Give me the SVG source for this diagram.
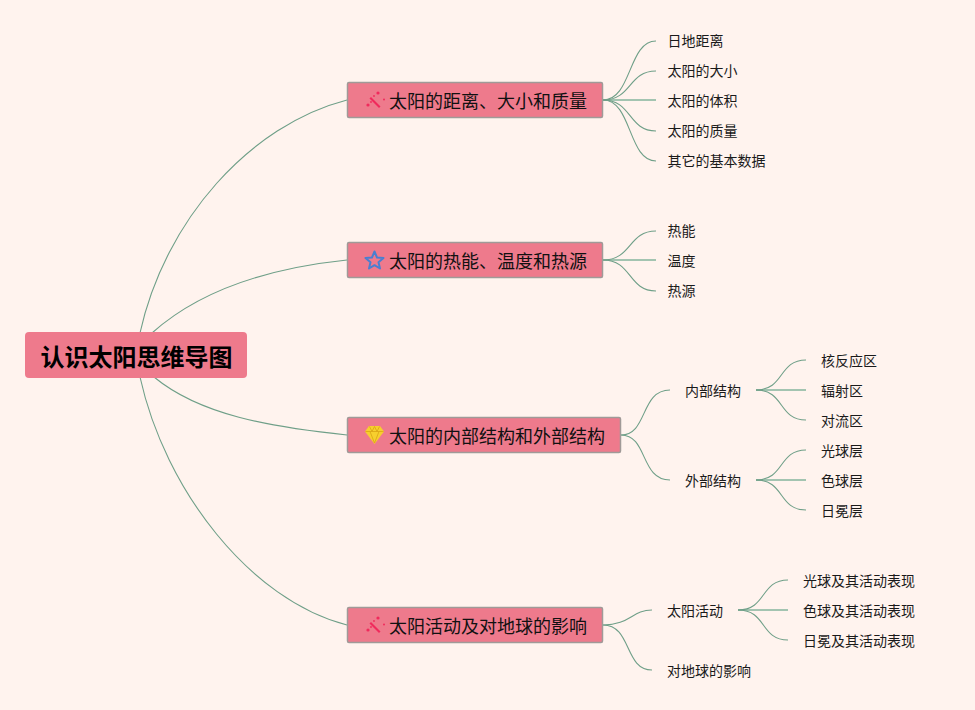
<svg xmlns="http://www.w3.org/2000/svg" width="975" height="710" viewBox="0 0 975 710">
<style>
text{font-family:"Noto Sans CJK SC","Liberation Sans",sans-serif;fill:#1a1a1a}
.leaf{font-size:14px;dominant-baseline:central}
.main{font-size:18px;dominant-baseline:central;fill:#111}
.root{font-size:24px;font-weight:700;dominant-baseline:central;fill:#000}
.box{fill:#ee7a8c;stroke:#a09a98;stroke-width:1.500}
.rootbox{fill:#ee7a8c}
#connectors path{fill:none;stroke:#6f9f88;stroke-width:1.100}
#connectors path.h{stroke:#a3c4b1;stroke-width:2}
.wand{fill:#f02a5c;stroke:none}
</style>
<rect width="975" height="710" fill="#fff3ee"/>
<g id="connectors">
<path d="M140 333C165 220 250 125 347 100"/>
<path d="M152 333C200 290 270 268 347 260"/>
<path d="M154 377C200 415 270 427 347 435"/>
<path d="M140 377C165 490 250 600 347 625"/>
<path class="h" d="M603 100H656"/>
<path d="M603 100C632 100 628 41 656 41"/>
<path d="M603 100C632 100 628 71 656 71"/>
<path d="M603 100C632 100 628 131 656 131"/>
<path d="M603 100C632 100 628 161 656 161"/>
<path class="h" d="M603 260H656"/>
<path d="M603 260C632 260 628 231 656 231"/>
<path d="M603 260C632 260 628 291 656 291"/>
<path d="M621 435C648 435 640 390 670 390"/>
<path d="M621 435C648 435 640 480 670 480"/>
<path class="h" d="M756 390H806"/>
<path d="M756 390C785 390 778 360 806 360"/>
<path d="M756 390C785 390 778 420 806 420"/>
<path class="h" d="M756 480H806"/>
<path d="M756 480C785 480 778 450 806 450"/>
<path d="M756 480C785 480 778 510 806 510"/>
<path d="M603 625C630 625 632 610 652 610"/>
<path d="M603 625C632 625 624 670 652 670"/>
<path class="h" d="M738 610H788"/>
<path d="M738 610C767 610 760 580 788 580"/>
<path d="M738 610C767 610 760 640 788 640"/>
</g>
<g id="root"><rect class="rootbox" x="25" y="332" width="222" height="46" rx="4"/><text class="root" x="40.500" y="355">认识太阳思维导图</text></g>
<g id="n1"><rect class="box" x="347.500" y="82.500" width="255" height="35" rx="1.500"/>
<g class="wand"><path d="M369.500 98.500L371 97L380.500 106.500L379 108Z"/><circle cx="378" cy="93" r="1.600"/><circle cx="368" cy="105" r="1.600"/><circle cx="384" cy="99.500" r="1"/><circle cx="371" cy="102" r="0.900"/><circle cx="374" cy="96" r="0.900"/></g>
<text class="main" x="389" y="99.500">太阳的距离、大小和质量</text></g>
<g id="n2"><rect class="box" x="347.500" y="242.500" width="255" height="35" rx="1.500"/>
<path d="M374.500 251.500L377 257.500L383.500 258L378.500 262.300L380 268.500L374.500 265.200L369 268.500L370.500 262.300L365.500 258L372 257.500Z" fill="none" stroke="#4a7fd0" stroke-width="2" stroke-linejoin="round"/>
<text class="main" x="389" y="259.500">太阳的热能、温度和热源</text></g>
<g id="n3"><rect class="box" x="347.500" y="417.500" width="273" height="35" rx="1.500"/>
<path d="M369 426H380L384 431.500L374.500 444L365 431.500Z" fill="#f7cf2e"/>
<path d="M365.500 431.500H383.500M370 431.500L374.500 443L379 431.500M369.500 426.500L372 431.500L374.500 426.500L377 431.500L379.500 426.500" fill="none" stroke="#d9a514" stroke-width="0.800"/>
<text class="main" x="389" y="434.500">太阳的内部结构和外部结构</text></g>
<g id="n4"><rect class="box" x="347.500" y="607.500" width="255" height="35" rx="1.500"/>
<g class="wand"><path d="M369.500 623.500L371 622L380.500 631.500L379 633Z"/><circle cx="378" cy="618" r="1.600"/><circle cx="368" cy="630" r="1.600"/><circle cx="384" cy="624.500" r="1"/><circle cx="371" cy="627" r="0.900"/><circle cx="374" cy="621" r="0.900"/></g>
<text class="main" x="389" y="624.500">太阳活动及对地球的影响</text></g>
<g id="l1"><text class="leaf" x="667.500" y="40">日地距离</text></g>
<g id="l2"><text class="leaf" x="667.500" y="70">太阳的大小</text></g>
<g id="l3"><text class="leaf" x="667.500" y="100">太阳的体积</text></g>
<g id="l4"><text class="leaf" x="667.500" y="130">太阳的质量</text></g>
<g id="l5"><text class="leaf" x="667.500" y="160">其它的基本数据</text></g>
<g id="l6"><text class="leaf" x="667.500" y="230">热能</text></g>
<g id="l7"><text class="leaf" x="667.500" y="260">温度</text></g>
<g id="l8"><text class="leaf" x="667.500" y="290">热源</text></g>
<g id="l9"><text class="leaf" x="685" y="390">内部结构</text></g>
<g id="l10"><text class="leaf" x="685" y="480">外部结构</text></g>
<g id="l11"><text class="leaf" x="821" y="360">核反应区</text></g>
<g id="l12"><text class="leaf" x="821" y="390">辐射区</text></g>
<g id="l13"><text class="leaf" x="821" y="420">对流区</text></g>
<g id="l14"><text class="leaf" x="821" y="450">光球层</text></g>
<g id="l15"><text class="leaf" x="821" y="480">色球层</text></g>
<g id="l16"><text class="leaf" x="821" y="510">日冕层</text></g>
<g id="l17"><text class="leaf" x="667" y="610">太阳活动</text></g>
<g id="l18"><text class="leaf" x="667" y="670">对地球的影响</text></g>
<g id="l19"><text class="leaf" x="803" y="580">光球及其活动表现</text></g>
<g id="l20"><text class="leaf" x="803" y="610">色球及其活动表现</text></g>
<g id="l21"><text class="leaf" x="803" y="640">日冕及其活动表现</text></g>
</svg>
